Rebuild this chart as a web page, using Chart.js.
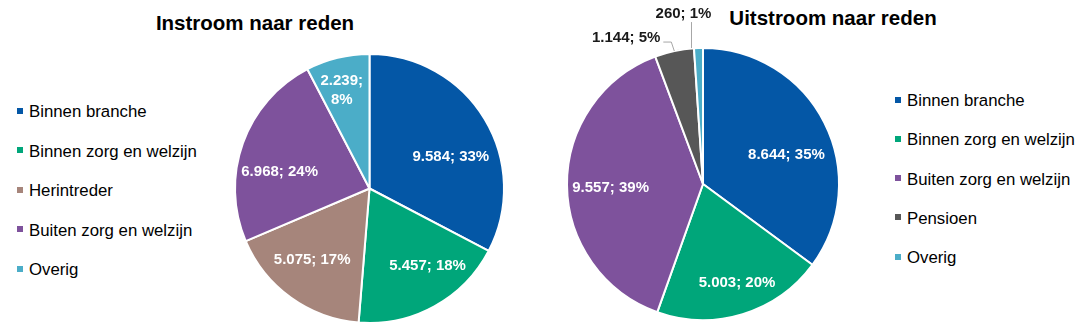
<html lang="nl">
<head>
    <meta charset="UTF-8">
    <title>Instroom en uitstroom naar reden</title>
    <script src="https://cdn.jsdelivr.net/npm/chart.js@4/dist/chart.umd.min.js"></script>
    <style>
        body { margin: 0; background: #fff; font-family: "Liberation Sans", Arial, sans-serif; }
        #wrap { position: relative; width: 1081px; height: 330px; overflow: hidden; }
        canvas { position: absolute; top: 0; }
        .title { position: absolute; font-weight: bold; font-size: 20.5px; color: #000; white-space: nowrap; transform: translate(-50%, -50%); }
        .legend { position: absolute; font-size: 16.8px; color: #000; }
        .legend div { white-space: nowrap; }
        .legend span { display: inline-block; width: 6px; height: 6px; margin-right: 6px; vertical-align: middle; position: relative; top: -2px; }
    </style>
</head>
<body>
<div id="wrap">
    <div class="title" style="left:255px; top:23px">Instroom naar reden</div>
    <div class="title" style="left:833px; top:18px">Uitstroom naar reden</div>
    <div class="legend" id="legIn" style="left:17px; top:92px; line-height:39.5px"></div>
    <div class="legend" id="legUit" style="left:895px; top:81px; line-height:39.3px"></div>
    <canvas id="chartIn" width="330" height="330" style="left:200px"></canvas>
    <canvas id="chartUit" width="330" height="330" style="left:540px"></canvas>
</div>
<script>
// instroom
const inLabels = ['Binnen branche', 'Binnen zorg en welzijn', 'Herintreder', 'Buiten zorg en welzijn', 'Overig'];
const inValues = [9584, 5457, 5075, 6968, 2239];
const inPercent = [33, 18, 17, 24, 8];
const inColors = ['#0457A6', '#00A67A', '#A6857B', '#7E529C', '#4BADC8'];

// uitstroom
const uitLabels = ['Binnen branche', 'Binnen zorg en welzijn', 'Buiten zorg en welzijn', 'Pensioen', 'Overig'];
const uitValues = [8644, 5003, 9557, 1144, 260];
const uitPercent = [35, 20, 39, 5, 1];
const uitColors = ['#0457A6', '#00A67A', '#7E529C', '#575757', '#4BADC8'];

// where to put each slice label: [radius factor, angle shift in degrees] or a leader line
const inPlace = [
    {f: 0.65, shift: 9.6},
    {f: 0.72, shift: -8},
    {f: 0.68, shift: 3},
    {f: 0.68, shift: -9},
    {f: 0.76, shift: -2, wrap: true}
];
const uitPlace = [
    {f: 0.65, shift: 7.5},
    {f: 0.77, shift: -2},
    {f: 0.68, shift: -2},
    {leader: {start: [0, 0], pts: [[-3, -9], [-11, -9]], text: [-14, -13], align: 'right'}},
    {leader: {start: [-7, 0], pts: [[-7, -26]], text: [-15, -34], align: 'center'}}
];

function fmt(v) {
    return String(v).replace(/\B(?=(\d{3})+(?!\d))/g, '.');
}

function buildLegend(id, labels, colors) {
    const el = document.getElementById(id);
    labels.forEach((l, i) => {
        const d = document.createElement('div');
        d.innerHTML = '<span style="background:' + colors[i] + '"></span>' + l;
        el.appendChild(d);
    });
}
buildLegend('legIn', inLabels, inColors);
buildLegend('legUit', uitLabels, uitColors);

const sliceLabels = {
    id: 'sliceLabels',
    afterDatasetsDraw(chart, args, opts) {
        const ctx = chart.ctx;
        const meta = chart.getDatasetMeta(0);
        const values = chart.data.datasets[0].data;
        ctx.save();
        ctx.font = 'bold 15px "Liberation Sans", Arial, sans-serif';
        ctx.textBaseline = 'middle';
        meta.data.forEach((arc, i) => {
            const p = arc.getProps(['x', 'y', 'startAngle', 'endAngle', 'outerRadius'], true);
            const place = opts.place[i];
            const mid = (p.startAngle + p.endAngle) / 2;
            const txt = fmt(values[i]) + '; ' + opts.percent[i] + '%';
            if (place.leader) {
                const L = place.leader;
                const ex = p.x + Math.cos(mid) * p.outerRadius;
                const ey = p.y + Math.sin(mid) * p.outerRadius;
                ctx.strokeStyle = '#A6A6A6';
                ctx.lineWidth = 1;
                ctx.beginPath();
                ctx.moveTo(ex + L.start[0], ey + L.start[1]);
                L.pts.forEach(q => ctx.lineTo(ex + q[0], ey + q[1]));
                ctx.stroke();
                ctx.fillStyle = '#1a1a1a';
                ctx.textAlign = L.align;
                ctx.fillText(txt, ex + L.text[0], ey + L.text[1]);
                return;
            }
            const a = mid + place.shift * Math.PI / 180;
            const r = p.outerRadius * place.f;
            const tx = p.x + Math.cos(a) * r;
            const ty = p.y + Math.sin(a) * r;
            ctx.fillStyle = '#fff';
            ctx.textAlign = 'center';
            if (place.wrap) {
                ctx.fillText(fmt(values[i]) + ';', tx, ty - 9.5);
                ctx.fillText(opts.percent[i] + '%', tx, ty + 9.5);
            } else {
                ctx.fillText(txt, tx, ty);
            }
        });
        ctx.restore();
    }
};

function makePie(id, labels, values, colors, percent, place, padding) {
    return new Chart(document.getElementById(id).getContext('2d'), {
        type: 'pie',
        data: {
            labels: labels,
            datasets: [{
                data: values,
                backgroundColor: colors,
                borderColor: '#ffffff',
                borderWidth: 2
            }]
        },
        options: {
            responsive: false,
            animation: false,
            layout: { padding: padding },
            plugins: {
                legend: { display: false },
                tooltip: { enabled: false },
                sliceLabels: { percent: percent, place: place }
            }
        },
        plugins: [sliceLabels]
    });
}

makePie('chartIn', inLabels, inValues, inColors, inPercent, inPlace, {left: 34, right: 25, top: 53, bottom: 6});
makePie('chartUit', uitLabels, uitValues, uitColors, uitPercent, uitPlace, {left: 26, right: 30, top: 47, bottom: 9});
</script>
</body>
</html>
